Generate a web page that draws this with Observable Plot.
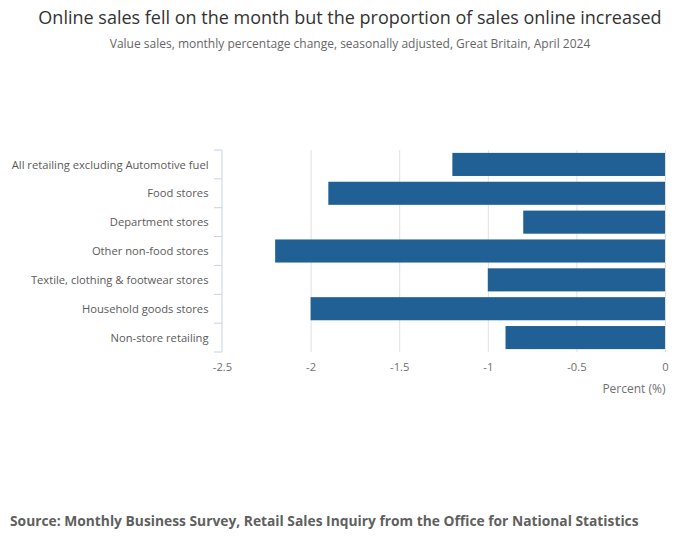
<!DOCTYPE html>
<html>
<head>
<meta charset="utf-8">
<script src="https://cdn.jsdelivr.net/npm/d3@7"></script>
<script src="https://cdn.jsdelivr.net/npm/@observablehq/plot@0.6"></script>
<style>
  body { margin: 0; width: 700px; height: 549px; position: relative; font-family: "Open Sans", sans-serif; background: #fff; }
  #title { position: absolute; top: 5px; left: 0; width: 700px; text-align: center; font-size: 18px; line-height: 24px; color: #333; }
  #subtitle { position: absolute; top: 35px; left: 0; width: 700px; text-align: center; font-size: 12px; line-height: 18px; color: #666; }
  #chart { position: absolute; top: 60px; left: 0; }
  #chart svg { display: block; }
  #source { position: absolute; top: 511px; left: 10px; font-size: 13.8px; line-height: 20px; font-weight: bold; color: #5f5f5f; }
</style>
</head>
<body>
<div id="title">Online sales fell on the month but the proportion of sales online increased</div>
<div id="subtitle">Value sales, monthly percentage change, seasonally adjusted, Great Britain, April 2024</div>
<div id="chart"></div>
<div id="source">Source: Monthly Business Survey, Retail Sales Inquiry from the Office for National Statistics</div>
<script>
const categories = [
  "All retailing excluding Automotive fuel",
  "Food stores",
  "Department stores",
  "Other non-food stores",
  "Textile, clothing & footwear stores",
  "Household goods stores",
  "Non-store retailing"
];
const values = [-1.2, -1.9, -0.8, -2.2, -1.0, -2.0, -0.9];
const xTicks = [-2.5, -2, -1.5, -1, -0.5, 0];
const xLabel = "Percent (%)";

const data = categories.map((c, i) => ({category: c, value: values[i]}));

const chart = Plot.plot({
  width: 700,
  height: 352,
  marginTop: 90,
  marginBottom: 60,
  marginLeft: 222,
  marginRight: 35,
  style: {fontFamily: "Open Sans", fontSize: "11.2px", color: "#707070", background: "#fff"},
  x: {domain: [-2.5, 0]},
  y: {domain: categories, paddingInner: 0.2, paddingOuter: 0.1, round: false},
  marks: [
    Plot.ruleX(xTicks.filter(d => d > -2.5), {stroke: "#e0e0e0", strokeWidth: 1}),
    Plot.barX(data, {x: "value", y: "category", fill: "#206095"}),
    Plot.axisY({tickSize: 0, tickPadding: 14, label: null, fill: "#5a5a5a"}),
    Plot.axisX({ticks: xTicks, tickSize: 0, tickPadding: 11, tickFormat: d => String(d),
                label: null, fill: "#707070"}),
    Plot.text([xLabel], {frameAnchor: "bottom-right", dy: 40, text: d => d, fill: "#707070",
                         textAnchor: "end", fontSize: 12})
  ]
});
document.getElementById("chart").appendChild(chart);

// y axis line with ticks at band boundaries, from Plot's own scales
const ys = chart.scale("y");
const xs = chart.scale("x");
const x0 = xs.apply(-2.5);
const gap = (ys.step - ys.bandwidth) / 2;
const bounds = categories.map(c => ys.apply(c) - gap);
bounds.push(ys.apply(categories[categories.length - 1]) + ys.bandwidth + gap);
const g = d3.select(chart).append("g").attr("stroke", "#c6d3e6").attr("stroke-width", 1);
g.append("line").attr("x1", x0).attr("x2", x0).attr("y1", bounds[0]).attr("y2", bounds[bounds.length - 1]);
g.selectAll("line.t").data(bounds).join("line").attr("class", "t")
  .attr("x1", x0 - 8).attr("x2", x0).attr("y1", d => d).attr("y2", d => d);
</script>
</body>
</html>
